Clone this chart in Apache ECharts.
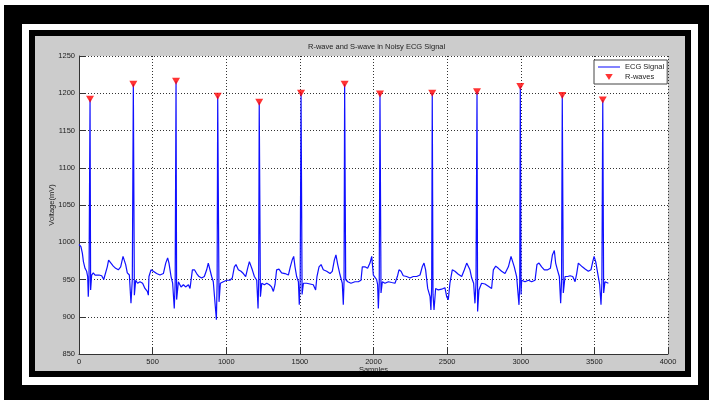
<!DOCTYPE html>
<html>
<head>
<meta charset="utf-8">
<script src="https://cdn.jsdelivr.net/npm/echarts@6/dist/echarts.min.js"></script>
<style>
html,body{margin:0;padding:0;background:#fff;}
#chart{width:709px;height:400px;}
</style>
</head>
<body>
<div id="chart"></div>
<script>
// ---- data ----
var chartTitle = 'R-wave and S-wave in Noisy ECG Signal';
var xAxisName = 'Samples';
var yAxisName = 'Voltage(mV)';
var xTicks = [0, 500, 1000, 1500, 2000, 2500, 3000, 3500, 4000];
var yTicks = [850, 900, 950, 1000, 1050, 1100, 1150, 1200, 1250];

var sampleIdx = [0,13,23,30,41,52,59,63,68,75,79,86,97,109,120,136,154,168,181,192,201,217,233,249,267,283,299,308,317,328,342,353,362,369,376,385,398,414,432,448,464,471,475,489,505,527,550,573,589,602,611,625,636,647,653,659,663,675,693,709,724,743,754,765,770,784,799,815,833,851,867,878,890,901,912,924,933,938,942,951,960,980,1003,1025,1041,1055,1066,1082,1100,1116,1132,1145,1157,1166,1177,1191,1207,1216,1220,1224,1232,1241,1259,1275,1293,1308,1320,1331,1342,1358,1376,1399,1422,1435,1449,1458,1467,1478,1490,1496,1502,1508,1515,1524,1546,1569,1591,1607,1616,1630,1644,1659,1682,1705,1720,1734,1745,1757,1773,1788,1795,1800,1804,1811,1825,1847,1874,1897,1915,1924,1942,1960,1976,1988,1999,2010,2021,2028,2033,2039,2044,2051,2060,2078,2101,2123,2146,2162,2173,2187,2202,2225,2248,2270,2293,2316,2331,2343,2354,2368,2384,2390,2395,2399,2404,2411,2422,2440,2463,2485,2497,2508,2519,2535,2553,2576,2599,2617,2633,2644,2655,2667,2680,2689,2696,2703,2707,2716,2734,2757,2780,2802,2814,2830,2848,2870,2893,2916,2934,2947,2956,2972,2988,2993,2997,3002,3006,3029,3052,3074,3097,3110,3124,3142,3160,3183,3201,3215,3228,3237,3249,3262,3271,3277,3282,3289,3301,3319,3335,3353,3369,3380,3391,3403,3418,3437,3459,3477,3489,3498,3509,3523,3536,3545,3551,3557,3563,3572,3584,3595];
var ecgValues = [997,994,985,974,965,961,954,927,950,1192,936,956,959,956,958,956,955,950,952,967,976,972,968,965,963,967,981,983,970,959,956,918,950,1212,929,949,945,947,945,938,934,929,954,963,961,958,956,958,972,979,972,954,945,911,945,1216,923,947,940,943,940,943,938,936,963,963,958,954,952,954,963,972,974,954,947,947,896,945,1196,920,945,947,949,949,952,967,970,963,961,958,954,965,974,976,963,954,949,911,945,1188,927,945,943,945,943,940,934,943,963,964,959,958,956,967,977,981,967,954,947,916,948,1200,930,945,945,944,943,936,954,967,970,963,961,958,961,976,983,970,956,945,916,948,1212,950,947,945,947,947,949,967,967,965,972,981,956,954,950,943,911,945,1199,932,947,945,947,946,945,954,963,961,955,954,952,954,954,956,967,972,963,938,927,909,940,1200,930,909,938,936,937,939,927,923,945,963,961,957,954,963,972,974,963,952,945,918,945,1202,907,936,945,944,941,938,963,968,965,961,958,967,981,983,967,954,916,945,1209,930,949,947,949,947,949,970,972,967,963,963,965,983,989,972,963,954,918,948,1197,932,954,954,955,954,947,958,972,974,967,964,961,963,974,981,974,958,943,916,945,1191,932,947,949,945];

var rPeakIdx = [75,369,659,942,1224,1508,1804,2044,2399,2703,2997,3282,3557];
var rPeakValues = [1192,1212,1216,1196,1188,1200,1212,1199,1200,1202,1209,1197,1191];

// ---- build series data ----
var ecgData = sampleIdx.map(function (s, i) { return [s, ecgValues[i]]; });
var rData = rPeakIdx.map(function (s, i) { return [s, rPeakValues[i]]; });

var FONT = 'Liberation Sans, Arial, sans-serif';
var gridL = 79, gridT = 56, gridR = 668, gridB = 354;
var plain = function (v) { return String(v); };

var chart = echarts.init(document.getElementById('chart'), null, {renderer: 'canvas'});
chart.setOption({
  backgroundColor: '#ffffff',
  animation: false,
  graphic: [
    {type: 'rect', z: -20, silent: true, shape: {x: 4, y: 5, width: 705, height: 395}, style: {fill: '#000'}},
    {type: 'rect', z: -19, silent: true, shape: {x: 22, y: 24, width: 676, height: 361}, style: {fill: '#fff'}},
    {type: 'rect', z: -18, silent: true, shape: {x: 29, y: 30, width: 662, height: 347}, style: {fill: '#000'}},
    {type: 'rect', z: -17, silent: true, shape: {x: 35, y: 36, width: 650, height: 335}, style: {fill: '#cccccc'}},
    {type: 'rect', z: -16, silent: true, shape: {x: gridL, y: gridT, width: gridR - gridL, height: gridB - gridT}, style: {fill: '#fff'}},
    {type: 'rect', z: 100, silent: true, shape: {x: 29, y: 371, width: 662, height: 6}, style: {fill: '#000'}}
  ],
  title: {
    text: chartTitle,
    left: 308, top: 43, padding: 0,
    textStyle: {fontFamily: FONT, fontSize: 7.5, fontWeight: 'normal', color: '#222'}
  },
  legend: {
    orient: 'vertical', left: 594, top: 60,
    backgroundColor: '#fff', borderColor: '#444', borderWidth: 1,
    padding: [3, 3, 3, 4], itemGap: 2, itemWidth: 22, itemHeight: 6,
    textStyle: {fontFamily: FONT, fontSize: 7.5, color: '#222'},
    data: [
      {name: 'ECG Signal', icon: 'path://M0,0L22,0L22,1.2L0,1.2Z', itemStyle: {color: '#3030ff'}},
      {name: 'R-waves', icon: 'path://M0,0L10,0L5,8Z', itemStyle: {color: '#ff0000'}}
    ]
  },
  grid: {left: gridL, top: gridT, width: gridR - gridL, height: gridB - gridT, containLabel: false},
  xAxis: {
    type: 'value', min: xTicks[0], max: xTicks[xTicks.length - 1], interval: 500,
    name: xAxisName, nameLocation: 'middle', nameGap: 12, nameMoveOverlap: false,
    nameTextStyle: {fontFamily: FONT, fontSize: 7.5, color: '#222'},
    axisLine: {show: true, onZero: false, lineStyle: {color: '#333', width: 1}},
    axisTick: {show: true, inside: true, length: 6, lineStyle: {color: '#333'}},
    axisLabel: {fontFamily: FONT, fontSize: 7.5, color: '#222', margin: 4, formatter: plain},
    splitLine: {show: true, lineStyle: {type: [1, 2], color: '#333', width: 1}}
  },
  yAxis: {
    type: 'value', min: yTicks[0], max: yTicks[yTicks.length - 1], interval: 50,
    name: yAxisName, nameLocation: 'middle', nameGap: 23, nameRotate: 90, nameMoveOverlap: false,
    nameTextStyle: {fontFamily: FONT, fontSize: 7.5, color: '#222'},
    axisLine: {show: true, lineStyle: {color: '#333', width: 1}},
    axisTick: {show: true, inside: true, length: 6, lineStyle: {color: '#333'}},
    axisLabel: {fontFamily: FONT, fontSize: 7.5, color: '#222', margin: 4, formatter: plain},
    splitLine: {show: true, lineStyle: {type: [1, 2], color: '#333', width: 1}}
  },
  series: [
    {
      name: 'ECG Signal', type: 'line', data: ecgData,
      symbol: 'none', showSymbol: false,
      lineStyle: {color: '#1010ff', width: 1.2},
      itemStyle: {color: '#1010ff'}
    },
    {
      name: 'R-waves', type: 'scatter', data: rData,
      symbol: 'triangle', symbolRotate: 180, symbolSize: [8, 7],
      itemStyle: {color: '#ff0000'}, z: 5
    }
  ]
});
</script>
</body>
</html>
